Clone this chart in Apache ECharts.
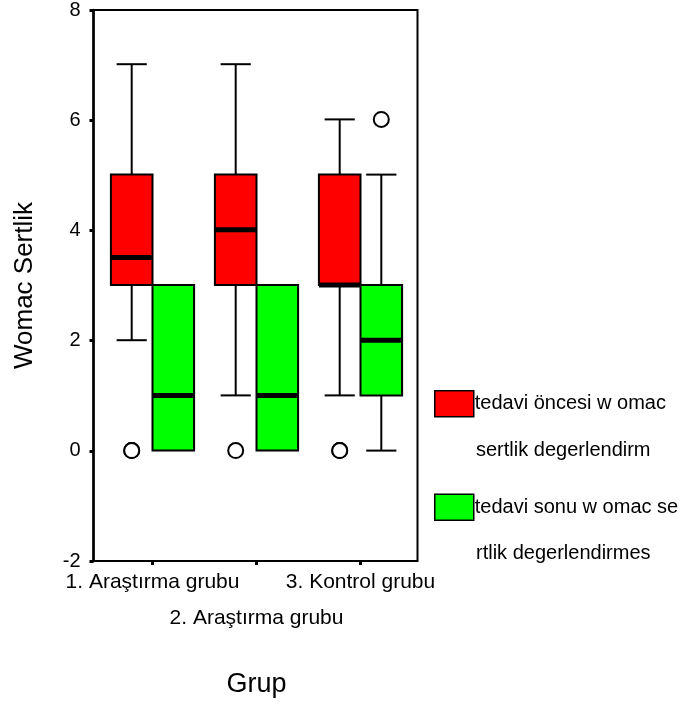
<!DOCTYPE html>
<html>
<head>
<meta charset="utf-8">
<script src="https://cdn.jsdelivr.net/npm/echarts@6/dist/echarts.min.js"></script>
<style>
  html, body { margin: 0; padding: 0; background: #fff; }
  #main { width: 693px; height: 706px; }
</style>
</head>
<body>
<div id="main"></div>
<script>
var categories = ['1. Araştırma grubu', '2. Araştırma grubu', '3. Kontrol grubu'];
var yTicks = [-2, 0, 2, 4, 6, 8];

// [group, min, Q1, median, Q3, max]
var onceBoxes = [
    [0, 2, 3, 3.5, 5, 7],
    [1, 1, 3, 4, 5, 7],
    [2, 1, 3, 3, 5, 6]
];
var sonuBoxes = [
    [0, 0, 0, 1, 3, 3],
    [1, 0, 0, 1, 3, 3],
    [2, 0, 1, 2, 3, 5]
];
// [group, value]
var onceOutliers = [[0, 0], [0, 0], [1, 0], [2, 0], [2, 0]];
var sonuOutliers = [[2, 6]];

var onceName = 'tedavi öncesi w omac';
var sonuName = 'tedavi sonu w omac se';
var onceName2 = 'sertlik degerlendirm';
var sonuName2 = 'rtlik degerlendirmes';

var FONT = 'Liberation Sans, Arial, sans-serif';

function boxRender(side, color) {
    return function (params, api) {
        var g = api.value(0);
        var band = api.size([1, 0])[0];
        var cx = api.coord([g, 0])[0] + side * band * 0.2;
        var w = band * 0.4, cap = band * 0.29;
        var y = [1, 2, 3, 4, 5].map(function (d) { return api.coord([g, api.value(d)])[1]; });
        var ls = { stroke: '#000', lineWidth: 2 };
        var kids = [];
        if (y[0] !== y[1]) {
            kids.push({ type: 'line', shape: { x1: cx, y1: y[1], x2: cx, y2: y[0] }, style: ls });
            kids.push({ type: 'line', shape: { x1: cx - cap / 2, y1: y[0], x2: cx + cap / 2, y2: y[0] }, style: ls });
        }
        if (y[4] !== y[3]) {
            kids.push({ type: 'line', shape: { x1: cx, y1: y[3], x2: cx, y2: y[4] }, style: ls });
            kids.push({ type: 'line', shape: { x1: cx - cap / 2, y1: y[4], x2: cx + cap / 2, y2: y[4] }, style: ls });
        }
        kids.push({ type: 'rect', shape: { x: cx - w / 2, y: y[3], width: w, height: y[1] - y[3] },
            style: { fill: color, stroke: '#000', lineWidth: 2 } });
        kids.push({ type: 'line', shape: { x1: cx - w / 2, y1: y[2], x2: cx + w / 2, y2: y[2] },
            style: { stroke: '#000', lineWidth: 5 } });
        return { type: 'group', children: kids };
    };
}

function outlierRender(side) {
    return function (params, api) {
        var g = api.value(0);
        var band = api.size([1, 0])[0];
        var p = api.coord([g, api.value(1)]);
        return { type: 'circle', shape: { cx: p[0] + side * band * 0.2, cy: p[1], r: 7.5 },
            style: { fill: '#fff', stroke: '#000', lineWidth: 2 } };
    };
}

var myChart = echarts.init(document.getElementById('main'));
var option = {
    animation: false,
    textStyle: { fontFamily: FONT },
    grid: [
        { left: 93.5, top: 9, width: 324, height: 552, show: true, borderColor: '#000', borderWidth: 2, backgroundColor: 'transparent' },
        { left: 100.5, top: 9, width: 312, height: 552 }
    ],
    xAxis: [
        { gridIndex: 0, type: 'value', show: false, min: 0, max: 1 },
        {
            gridIndex: 1, type: 'category', data: categories,
            name: 'Grup', nameLocation: 'middle', nameGap: 110,
            nameTextStyle: { fontSize: 27, color: '#000', fontFamily: FONT },
            axisLine: { show: false, onZero: false },
            axisTick: { show: true, alignWithLabel: true, length: 4, lineStyle: { color: '#000', width: 3 } },
            axisLabel: {
                interval: 0, hideOverlap: false, margin: 3, fontSize: 21, lineHeight: 36, color: '#000',
                formatter: function (v, i) { return i === 1 ? '\n' + v : v; }
            },
            splitLine: { show: false }
        }
    ],
    yAxis: [
        {
            gridIndex: 0, type: 'value', min: -2, max: 8, interval: 2,
            name: 'Womac Sertlik', nameLocation: 'middle', nameGap: 56,
            nameTextStyle: { fontSize: 26, color: '#000', fontFamily: FONT },
            axisLine: { show: true, lineStyle: { color: '#000', width: 2.5 } },
            axisTick: { show: true, length: 4, lineStyle: { color: '#000', width: 3 } },
            axisLabel: { fontSize: 20, color: '#000', margin: 13,
                formatter: function (v) { return yTicks.indexOf(v) >= 0 ? String(v) : ''; } },
            splitLine: { show: false }
        },
        { gridIndex: 1, type: 'value', min: -2, max: 8, interval: 2, show: false, splitLine: { show: false } }
    ],
    legend: {
        orient: 'vertical', left: 434, top: 390, padding: 0, itemWidth: 39, itemHeight: 26, itemGap: 76,
        textStyle: { fontSize: 20, color: '#000', fontFamily: FONT, padding: [3, 0, 0, -4] },
        selectedMode: false,
        data: [
            { name: onceName, icon: 'rect', itemStyle: { color: '#ff0000', borderColor: '#000', borderWidth: 1.5 } },
            { name: sonuName, icon: 'rect', itemStyle: { color: '#00ff00', borderColor: '#000', borderWidth: 1.5 } }
        ]
    },
    graphic: [
        { type: 'text', left: 476, top: 440, style: { text: onceName2, fontSize: 20, fill: '#000', fontFamily: FONT } },
        { type: 'text', left: 476, top: 543, style: { text: sonuName2, fontSize: 20, fill: '#000', fontFamily: FONT } }
    ],
    series: [
        { name: onceName, type: 'custom', xAxisIndex: 1, yAxisIndex: 1, itemStyle: { color: '#ff0000' },
          encode: { x: 0, y: [1, 2, 3, 4, 5] }, renderItem: boxRender(-1, '#ff0000'), data: onceBoxes },
        { name: sonuName, type: 'custom', xAxisIndex: 1, yAxisIndex: 1, itemStyle: { color: '#00ff00' },
          encode: { x: 0, y: [1, 2, 3, 4, 5] }, renderItem: boxRender(1, '#00ff00'), data: sonuBoxes },
        { name: 'once outliers', type: 'custom', xAxisIndex: 1, yAxisIndex: 1,
          encode: { x: 0, y: 1 }, renderItem: outlierRender(-1), data: onceOutliers },
        { name: 'sonu outliers', type: 'custom', xAxisIndex: 1, yAxisIndex: 1,
          encode: { x: 0, y: 1 }, renderItem: outlierRender(1), data: sonuOutliers }
    ]
};
myChart.setOption(option);
</script>
</body>
</html>
